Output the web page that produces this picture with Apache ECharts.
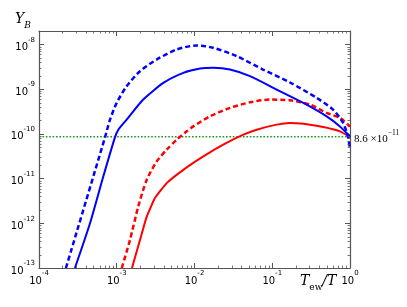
<!DOCTYPE html>
<html><head><meta charset="utf-8">
<script src="https://cdn.jsdelivr.net/npm/echarts@6/dist/echarts.min.js"></script>
<style>html,body{margin:0;padding:0;background:#fff}#c{width:407px;height:307px}</style>
</head><body><div id="c"></div>
<script>
// axis ranges
const xMin = 1e-4, xMax = 1;
const yMin = 1e-13, yMax = 2e-8;
const threshold = 8.6e-11;

// blue, solid
const blueSolidX = [2.90e-4, 4.53e-4, 6.71e-4, 9.48e-4, 1.047e-3, 1.34e-3, 2.19e-3, 3.97e-3, 7.18e-3, 1.18e-2, 1.75e-2, 2.86e-2, 5.18e-2, 0.114, 0.251, 0.501, 0.743, 0.951, 1];
const blueSolidY = [1e-13, 1.0e-12, 1.11e-11, 8.36e-11, 1.24e-10, 2.08e-10, 5.85e-10, 1.38e-9, 2.32e-9, 2.90e-9, 3.01e-9, 2.75e-9, 1.95e-9, 9.79e-10, 4.93e-10, 2.47e-10, 1.47e-10, 9.59e-11, 8.6e-11];
// blue, dashed
const blueDashX = [2.22e-4, 7.06e-4, 8.19e-4, 9.98e-4, 1.34e-3, 1.99e-3, 3.27e-3, 5.90e-3, 1.07e-2, 1.73e-2, 3.49e-2, 7.60e-2, 0.169, 0.373, 0.604, 0.813, 0.942, 1];
const blueDashY = [1e-13, 8.36e-11, 2.08e-10, 4.93e-10, 1.16e-9, 2.52e-9, 4.61e-9, 7.73e-9, 9.51e-9, 8.43e-9, 5.47e-9, 2.75e-9, 1.41e-9, 6.38e-10, 3.49e-10, 1.78e-10, 8.65e-11, 4.43e-11];
// red, solid
const redSolidX = [1.57e-3, 1.99e-3, 2.43e-3, 3.10e-3, 4.39e-3, 7.18e-3, 1.30e-2, 2.34e-2, 4.25e-2, 6.31e-2, 0.114, 0.169, 0.251, 0.454, 0.743, 1];
const redSolidY = [1e-13, 4.25e-13, 1.41e-12, 3.66e-12, 7.92e-12, 1.57e-11, 3.13e-11, 5.73e-11, 9.59e-11, 1.24e-10, 1.61e-10, 1.75e-10, 1.69e-10, 1.43e-10, 1.14e-10, 8.6e-11];
// red, dashed
const redDashX = [1.16e-3, 1.48e-3, 1.89e-3, 2.43e-3, 3.27e-3, 4.39e-3, 5.90e-3, 7.94e-3, 9.66e-3, 1.58e-2, 2.86e-2, 5.18e-2, 9.35e-2, 0.169, 0.305, 0.501, 0.743, 1];
const redDashY = [1e-13, 4.25e-13, 2.37e-12, 9.40e-12, 2.42e-11, 4.43e-11, 7.41e-11, 1.14e-10, 1.47e-10, 2.47e-10, 3.81e-10, 5.08e-10, 5.85e-10, 5.64e-10, 4.52e-10, 2.94e-10, 2.27e-10, 1.45e-10];

// minor tick positions (2..9 x 10^n)
const xMinor = [];
for (let n = -4; n <= -1; n++) for (let k = 2; k <= 9; k++) xMinor.push(k * Math.pow(10, n));
const yMinor = [];
for (let n = -13; n <= -8; n++) for (let k = 2; k <= 9; k++) { const v = k * Math.pow(10, n); if (v < yMax * 0.999) yMinor.push(v); }

const pairs = (xs, ys) => xs.map((x, i) => [x, ys[i]]);

const tickFmt = v => '{b|10}{s|' + Math.round(Math.log10(v)) + '}';
const tickRich = {
  b: { fontFamily: 'DejaVu Sans', fontSize: 10, color: '#000', lineHeight: 16, verticalAlign: 'bottom' },
  s: { fontFamily: 'DejaVu Sans', fontSize: 7, color: '#000', lineHeight: 16, verticalAlign: 'top' }
};
const axisCol = '#555';

function axisBase(extra) {
  return Object.assign({
    type: 'log', logBase: 10,
    axisLine: { show: true, onZero: false, lineStyle: { color: axisCol, width: 1.2 } },
    axisTick: { show: true, inside: true, length: 5, lineStyle: { color: axisCol, width: 1 } },
    splitLine: { show: false },
    minorTick: { show: false },
    minorSplitLine: { show: false }
  }, extra);
}

const chart = echarts.init(document.getElementById('c'), null, { renderer: 'canvas' });

const option = {
  animation: false,
  backgroundColor: '#fff',
  grid: { left: 39, right: 57, top: 31, bottom: 39, containLabel: false },
  xAxis: [
    axisBase({ position: 'bottom', min: xMin, max: xMax,
      axisLabel: { formatter: tickFmt, rich: tickRich, margin: 2, showMinLabel: true, showMaxLabel: true } }),
    axisBase({ position: 'top', min: xMin, max: xMax, axisLabel: { show: false } })
  ],
  yAxis: [
    axisBase({ position: 'left', min: yMin, max: yMax,
      axisLabel: { formatter: tickFmt, rich: tickRich, margin: 4, showMaxLabel: false } }),
    axisBase({ position: 'right', min: yMin, max: yMax, axisLabel: { show: false } })
  ],
  graphic: [
    { type: 'text', left: 15, top: 12, style: {
      text: '{i|Y}{sub|B}',
      rich: {
        i: { fontFamily: 'DejaVu Serif', fontStyle: 'italic', fontSize: 14, color: '#000', lineHeight: 18, verticalAlign: 'top' },
        sub: { fontFamily: 'DejaVu Serif', fontStyle: 'italic', fontSize: 9, color: '#000', lineHeight: 18, verticalAlign: 'bottom' }
      } } },
    { type: 'text', left: 300, top: 274, style: {
      text: '{i|T}{sub|ew}{i|/T}',
      rich: {
        i: { fontFamily: 'DejaVu Serif', fontStyle: 'italic', fontSize: 14, color: '#000', lineHeight: 18, verticalAlign: 'top' },
        sub: { fontFamily: 'DejaVu Serif', fontSize: 9, color: '#000', lineHeight: 18, verticalAlign: 'bottom' }
      } } }
  ],
  series: [
    { type: 'line', name: 'threshold', data: [[xMin, threshold], [xMax, threshold]], symbol: 'none',
      lineStyle: { color: '#1a9a1a', width: 1.6, type: [1.6, 1.8] }, z: 1,
      endLabel: { show: true, distance: 4, formatter: '{n|8.6 ×10}{s|−11}',
        rich: {
          n: { fontFamily: 'Liberation Serif', fontSize: 11, color: '#000', lineHeight: 16, verticalAlign: 'bottom' },
          s: { fontFamily: 'Liberation Serif', fontSize: 7.5, color: '#000', lineHeight: 16, verticalAlign: 'top' }
        } } },
    { type: 'line', name: 'red solid', data: pairs(redSolidX, redSolidY), symbol: 'none', smooth: 0.12,
      lineStyle: { color: '#ff0000', width: 2 }, z: 3 },
    { type: 'line', name: 'red dashed', data: pairs(redDashX, redDashY), symbol: 'none', smooth: 0.25,
      lineStyle: { color: '#ff0000', width: 2.5, type: [5, 3] }, z: 3 },
    { type: 'line', name: 'blue solid', data: pairs(blueSolidX, blueSolidY), symbol: 'none', smooth: 0.2,
      lineStyle: { color: '#0000ff', width: 2 }, z: 4 },
    { type: 'line', name: 'blue dashed', data: pairs(blueDashX, blueDashY), symbol: 'none', smooth: 0.25,
      lineStyle: { color: '#0000ff', width: 2.5, type: [5, 3] }, z: 4 },
    { type: 'custom', name: 'minor ticks', silent: true, clip: false, z: 10,
      data: [[xMin, yMin]],
      renderItem: function (params, api) {
        const children = [];
        const L = 2.5;
        const st = { stroke: axisCol, lineWidth: 0.8 };
        xMinor.forEach(v => {
          const b = api.coord([v, yMin]), t = api.coord([v, yMax]);
          const x = Math.round(b[0]) + 0.5;
          children.push({ type: 'line', shape: { x1: x, y1: b[1], x2: x, y2: b[1] - L }, style: st });
          children.push({ type: 'line', shape: { x1: x, y1: t[1], x2: x, y2: t[1] + L }, style: st });
        });
        yMinor.forEach(v => {
          const l = api.coord([xMin, v]), r = api.coord([xMax, v]);
          const y = Math.round(l[1]) + 0.5;
          children.push({ type: 'line', shape: { x1: l[0], y1: y, x2: l[0] + L, y2: y }, style: st });
          children.push({ type: 'line', shape: { x1: r[0], y1: y, x2: r[0] - L, y2: y }, style: st });
        });
        return { type: 'group', children: children };
      } }
  ]
};
chart.setOption(option);
</script>
</body></html>
